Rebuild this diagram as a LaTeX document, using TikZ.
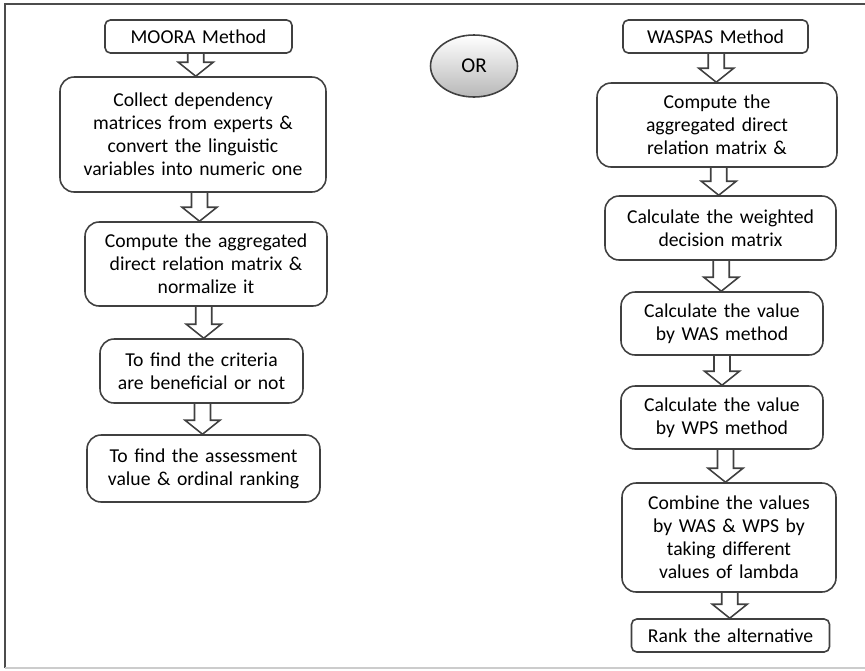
\documentclass[tikz,border=0pt]{standalone}
\usepackage{fontspec}
\setmainfont{Carlito}
\usepackage{tikz}
\usetikzlibrary{shapes.geometric, calc}
\newcommand{\flowarrow}[2]{%
  \draw[arrowline] let \p1=(#1.south), \p2=(#2.north), \p3=($(#1.south)!0.5!(#2.north)$) in
    (\x3-0.16cm,\y1) -- (\x3-0.16cm,\y2+0.28cm) -- (\x3-0.35cm,\y2+0.28cm) -- (\x3,\y2)
    -- (\x3+0.35cm,\y2+0.28cm) -- (\x3+0.16cm,\y2+0.28cm) -- (\x3+0.16cm,\y1);}

\begin{document}
\begin{tikzpicture}[x=0.02cm, y=-0.02cm, box/.style={rectangle, rounded corners=8pt, draw=black!75, line width=0.9pt, fill=white, align=center, inner xsep=0pt, inner ysep=1pt, font=\fontsize{11.2}{13.1}\selectfont}, headbox/.style={box, rounded corners=3pt}, ornode/.style={ellipse, draw=black!75, line width=0.9pt, top color=white, bottom color=black!28, minimum width=1.74cm, minimum height=1.24cm, inner sep=0pt, font=\fontsize{12}{14}\selectfont}, arrowline/.style={draw=black!75, line width=0.9pt, line join=miter}, frame/.style={draw=black!70, line width=1.2pt}]

    \useasboundingbox (0,0) rectangle (865,670);
    \draw[frame] (5,668) -- (5,4) -- (865,4);
    \draw[black!20, line width=0.8pt] (5,668) -- (865,668);

    %Nodes
    \node[headbox, text width=3.74cm, minimum height=0.66cm](moora) at (198.5,36.5){MOORA Method};
    \node[box, text width=5.32cm, minimum height=2.3cm](collect) at (193,134.5){Collect dependency\\matrices from experts \&\\convert the linguistic\\variables into numeric one};
    \node[box, text width=4.84cm, minimum height=1.68cm](aggregate) at (206,264){Compute the aggregated\\direct relation matrix \&\\normalize it};
    \node[box, text width=4.06cm, minimum height=1.28cm](criteria) at (201.5,371){To find the criteria\\are beneficial or not};
    \node[box, text width=4.66cm, minimum height=1.34cm](assess) at (203.5,468.5){To find the assessment\\value \& ordinal ranking};

    \node[ornode](or) at (474,66){OR};

    \node[headbox, text width=3.7cm, minimum height=0.66cm](waspas) at (715.5,36.5){WASPAS Method};
    \node[box, text width=4.8cm, minimum height=1.68cm](compute) at (717,125){Compute the\\aggregated direct\\relation matrix \&};
    \node[box, text width=4.62cm, minimum height=1.28cm](weighted) at (720.5,228){Calculate the weighted\\decision matrix};
    \node[box, text width=4.04cm, minimum height=1.26cm](was) at (722,323.5){Calculate the value\\by WAS method};
    \node[box, text width=4.04cm, minimum height=1.26cm](wps) at (722,417.5){Calculate the value\\by WPS method};
    \node[box, text width=4.28cm, minimum height=2.18cm](combine) at (729,537.5){Combine the values\\by WAS \& WPS by\\taking different\\values of lambda};
    \node[headbox, text width=3.96cm, minimum height=0.66cm](rank) at (730.5,635.5){Rank the alternative};

    %Lines
    \flowarrow{moora}{collect}
    \flowarrow{collect}{aggregate}
    \flowarrow{aggregate}{criteria}
    \flowarrow{criteria}{assess}
    \flowarrow{waspas}{compute}
    \flowarrow{compute}{weighted}
    \flowarrow{weighted}{was}
    \flowarrow{was}{wps}
    \flowarrow{wps}{combine}
    \flowarrow{combine}{rank}

\end{tikzpicture}
\end{document}
